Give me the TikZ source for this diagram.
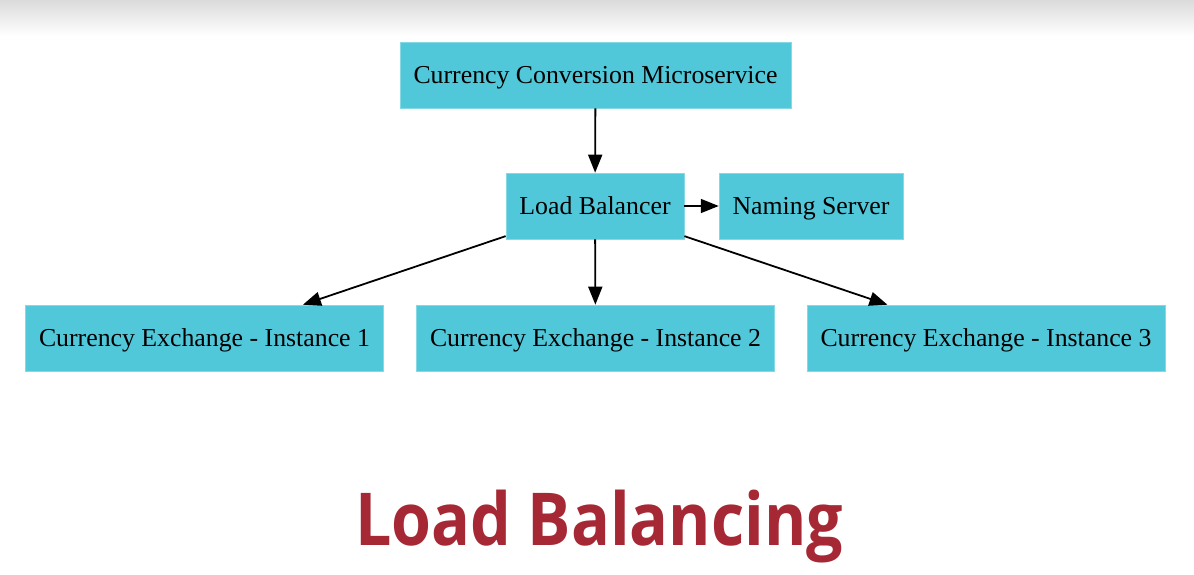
\documentclass[tikz,border=0pt]{standalone}
\usepackage{fontspec}
\setmainfont{Liberation Serif}
\newfontfamily\titlefont{Open Sans}
\usetikzlibrary{arrows.meta}
\definecolor{boxcyan}{RGB}{80,200,218}
\definecolor{titlered}{RGB}{165,40,52}

\begin{document}
\begin{tikzpicture}[x=1pt,y=-1pt,->,>={Triangle[length=18pt,width=14pt]},line width=1.8pt]
  \tikzstyle{box}=[rectangle,fill=boxcyan,draw=boxcyan!70!white,line width=0.6pt,minimum height=66pt,inner xsep=13.5pt,text height=17pt,text depth=0pt,font=\fontsize{25.8}{30}\selectfont]
  \useasboundingbox (0,0) rectangle (1194,575);
  % top shadow of the slide
  \shade[top color=black!14,bottom color=white,draw=none] (0,0) rectangle (1194,36);
  \node[box] (ccm) at (595.5,75)  {Currency Conversion Microservice};
  \node[box] (lb)  at (595,206)   {Load Balancer};
  \node[box] (ns)  at (811,206)   {Naming Server};
  \node[box] (ce1) at (204.5,338) {Currency Exchange - Instance 1};
  \node[box] (ce2) at (595.5,338) {Currency Exchange - Instance 2};
  \node[box] (ce3) at (986,338)   {Currency Exchange - Instance 3};
  \draw (ccm) -- (lb);
  \draw (lb) -- (ns);
  \draw (lb) -- (ce1);
  \draw (lb) -- (ce2);
  \draw (lb) -- (ce3);
  \node[anchor=base,text=titlered,inner sep=0pt] (title) at (599,545)
    {\resizebox{488pt}{\height}{\titlefont\bfseries\fontsize{73}{80}\selectfont Load Balancing}};
\end{tikzpicture}
\end{document}
